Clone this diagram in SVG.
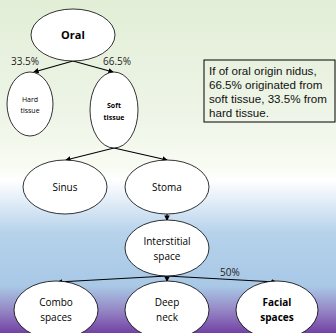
<svg xmlns="http://www.w3.org/2000/svg" width="336" height="333" viewBox="0 0 336 333">
<defs>
<linearGradient id="bg" x1="0" y1="0" x2="0" y2="1">
<stop offset="0" stop-color="#e2eed6"/>
<stop offset="0.35" stop-color="#eef5e8"/>
<stop offset="0.5" stop-color="#f8fbf2"/>
<stop offset="0.54" stop-color="#ffffff"/>
<stop offset="0.7" stop-color="#b6d2eb"/>
<stop offset="0.86" stop-color="#a8c8e6"/>
<stop offset="0.93" stop-color="#9688c6"/>
<stop offset="1" stop-color="#7242a4"/>
</linearGradient>
<marker id="ah" viewBox="0 0 6 6" refX="5" refY="3" markerWidth="5" markerHeight="5" orient="auto">
<path d="M0,0 L6,3 L0,6 z" fill="#000"/>
</marker>
</defs>
<style>
.n{fill:#fff;stroke:#000;stroke-width:0.8}
.t{font-family:"Open Sans","Liberation Sans",sans-serif;fill:#000;text-anchor:middle}
.c{stroke:#000;stroke-width:1.1;fill:none;marker-end:url(#ah)}
.l{font-family:"Open Sans","Liberation Sans",sans-serif;font-size:10px;fill:#222}
</style>
<rect width="336" height="333" fill="url(#bg)"/>
<g id="connectors">
<line class="c" x1="73" y1="61" x2="34" y2="72"/>
<line class="c" x1="73" y1="61" x2="113" y2="72"/>
<line class="c" x1="114" y1="148" x2="66" y2="160"/>
<line class="c" x1="114" y1="148" x2="167" y2="160"/>
<line class="c" x1="167" y1="214" x2="167" y2="220"/>
<line class="c" x1="167" y1="276" x2="58" y2="282"/>
<line class="c" x1="167" y1="276" x2="167" y2="281"/>
<line class="c" x1="167" y1="276" x2="276" y2="282"/>
<text class="l" x="11" y="65">33.5%</text>
<text class="l" x="103" y="65">66.5%</text>
<text class="l" x="220" y="276">50%</text>
</g>
<g id="oral"><ellipse class="n" cx="73" cy="35" rx="42" ry="26"/><text class="t" x="73" y="39" font-size="11" font-weight="bold">Oral</text></g>
<g id="hard"><ellipse class="n" cx="30" cy="104" rx="23" ry="32"/><text class="t" x="30" y="102" font-size="7">Hard</text><text class="t" x="30" y="113" font-size="7">tissue</text></g>
<g id="soft"><ellipse class="n" cx="114" cy="110" rx="24" ry="38"/><text class="t" x="114" y="108" font-size="7" font-weight="bold">Soft</text><text class="t" x="114" y="120" font-size="7" font-weight="bold">tissue</text></g>
<g id="sinus"><ellipse class="n" cx="65" cy="187" rx="42" ry="27"/><text class="t" x="65" y="191" font-size="10">Sinus</text></g>
<g id="stoma"><ellipse class="n" cx="167" cy="187" rx="42" ry="27"/><text class="t" x="167" y="191" font-size="10">Stoma</text></g>
<g id="interstitial"><ellipse class="n" cx="167" cy="248" rx="42" ry="28"/><text class="t" x="167" y="245" font-size="10">Interstitial</text><text class="t" x="167" y="260" font-size="10">space</text></g>
<g id="combo"><ellipse class="n" cx="56" cy="310" rx="42" ry="29"/><text class="t" x="56" y="306" font-size="10">Combo</text><text class="t" x="56" y="321" font-size="10">spaces</text></g>
<g id="deep"><ellipse class="n" cx="167" cy="310" rx="42" ry="29"/><text class="t" x="167" y="306" font-size="10">Deep</text><text class="t" x="167" y="321" font-size="10">neck</text></g>
<g id="facial"><ellipse class="n" cx="277" cy="310" rx="41" ry="29"/><text class="t" x="277" y="306" font-size="10" font-weight="bold">Facial</text><text class="t" x="277" y="321" font-size="10" font-weight="bold">spaces</text></g>
<g id="note">
<rect x="204" y="60" width="131" height="62" fill="none" stroke="#000" stroke-width="1"/>
<text font-family="'Liberation Sans',Arial,sans-serif" font-size="11.6" fill="#111">
<tspan x="209" y="75">If of oral origin nidus,</tspan>
<tspan x="209" y="89">66.5% originated from</tspan>
<tspan x="209" y="103">soft tissue, 33.5% from</tspan>
<tspan x="209" y="117">hard tissue.</tspan>
</text>
</g>
</svg>
